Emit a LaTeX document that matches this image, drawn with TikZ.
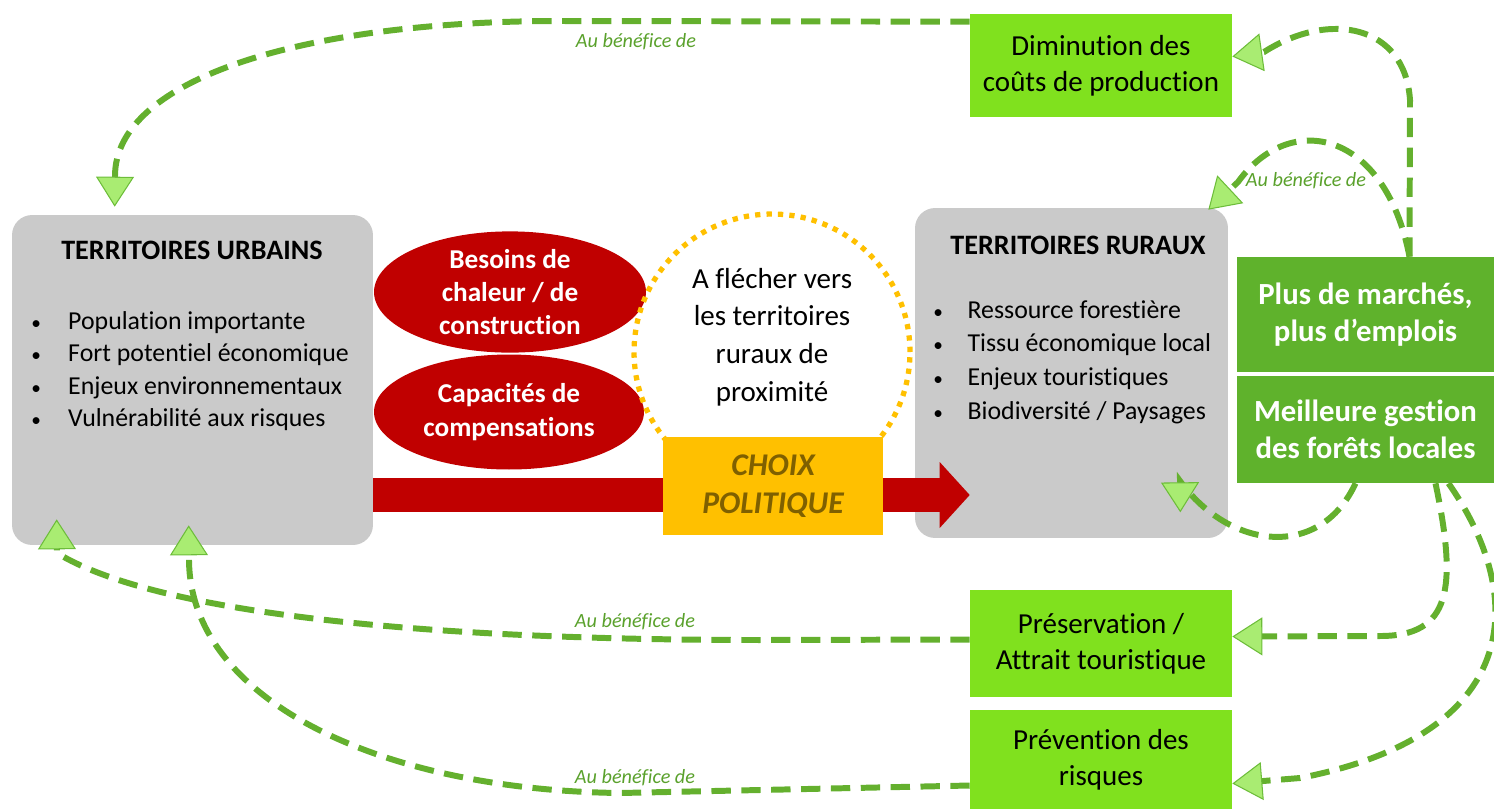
\documentclass[tikz,border=0pt]{standalone}
\usepackage{fontspec}
\setmainfont{Carlito}[Ligatures=NoCommon]
\usetikzlibrary{positioning, calc, arrows.meta, shapes}

\definecolor{grisbox}{HTML}{CACACA}
\definecolor{rougefonce}{HTML}{C00000}
\definecolor{jaunechoix}{HTML}{FFC000}
\definecolor{brunchoix}{HTML}{7F6000}
\definecolor{vertclair}{HTML}{80E11E}
\definecolor{vertfonce}{HTML}{5FB22C}
\definecolor{vertligne}{HTML}{64B02E}
\definecolor{vertfleche}{HTML}{A9EC72}
\definecolor{vertbord}{HTML}{6DBD3A}
\definecolor{vertnote}{HTML}{5AA12C}

\newcommand{\puce}[1]{\makebox[#1][l]{\fontsize{11}{11}\selectfont\textbullet}}

\begin{document}
\begin{tikzpicture}[
    x=0.02cm, y=-0.02cm,
    territoire/.style={rectangle, rounded corners=0.4cm, fill=grisbox, minimum width=#1, minimum height=6.6cm},
    titre/.style={font=\bfseries\fontsize{16}{19}\selectfont},
    liste/.style={align=left, inner sep=0pt, font=\fontsize{14.7}{#1}\selectfont},
    besoin/.style={ellipse, fill=rougefonce, text=white, align=center, inner sep=0pt, font=\bfseries\fontsize{15.5}{18.9}\selectfont},
    effet/.style={rectangle, fill=vertclair, minimum width=5.24cm, align=center, font=\fontsize{16.5}{20.5}\selectfont},
    gain/.style={rectangle, fill=vertfonce, text=white, minimum width=5.14cm, align=center, font=\bfseries\fontsize{17.5}{21}\selectfont},
    benef/.style={draw=vertligne, line width=3.4pt, dash pattern=on 11pt off 6pt,
        -{Triangle[length=0.6cm, width=0.76cm, fill=vertfleche, color=vertbord, line width=0.6pt]}},
    benefnote/.style={text=vertnote, font=\itshape\fontsize{11.5}{13}\selectfont}
]
    \useasboundingbox (0,0) rectangle (1494,809);

    % Territoires
    \node[territoire=7.22cm] (urb) at (192.5,380) {};
    \node[titre] (urbtitre) at (192,250) {TERRITOIRES URBAINS};
    \node[liste=18.5pt, anchor=west] (urbliste) at (31,371) {%
        \puce{21pt}Population importante\\
        \puce{21pt}Fort potentiel économique\\
        \puce{21pt}Enjeux environnementaux\\
        \puce{21pt}Vulnérabilité aux risques};

    \node[territoire=6.26cm] (rur) at (1071.5,373) {};
    \node[titre] (rurtitre) at (1078,245) {TERRITOIRES RURAUX};
    \node[liste=19.1pt, anchor=west] (rurliste) at (933,362) {%
        \puce{19.5pt}Ressource forestière\\
        \puce{19.5pt}Tissu économique local\\
        \puce{19.5pt}Enjeux touristiques\\
        \puce{19.5pt}Biodiversité / Paysages};

    % Besoins des villes
    \node[besoin, minimum width=5.44cm, minimum height=2.4cm] (besoins) at (510,292) {Besoins de\\chaleur / de\\construction};
    \node[besoin, minimum width=5.4cm, minimum height=2.3cm] (capa) at (509,412) {Capacités de\\compensations};

    % Flecher vers le rural
    \node[circle, draw=jaunechoix, line width=3pt, dash pattern=on 3pt off 3.5pt, minimum size=5.52cm] (fleche) at (772,352) {};
    \node[align=center, font=\fontsize{16.5}{21.5}\selectfont] (flechetxt) at (772,337) {A flécher vers\\les territoires\\ruraux de\\proximité};

    \draw[rougefonce, line width=0.68cm, -{Triangle[length=0.6cm, width=1.32cm, line width=0pt]}]
        (urb.east |- 0,495) -- ($(rur.west)+(55,122)$);

    \node[rectangle, fill=jaunechoix, text=brunchoix, minimum width=4.4cm, minimum height=1.96cm, align=center,
        font=\bfseries\itshape\fontsize{18}{21.5}\selectfont] (choix) at (773,486) {CHOIX\\POLITIQUE};

    % Effets
    \node[effet, minimum height=2.06cm] (dim) at (1101,65.5) {Diminution des\\coûts de production};
    \node[effet, minimum height=2.14cm] (pres) at (1101,643.5) {Préservation /\\Attrait touristique};
    \node[effet, minimum height=1.98cm] (prev) at (1101,759.5) {Prévention des\\risques};
    \node[gain, minimum height=2.3cm] (plus) at (1365.5,314.5) {Plus de marchés,\\plus d’emplois};
    \node[gain, minimum height=2.14cm] (gest) at (1365.5,429.5) {Meilleure gestion\\des forêts locales};

    % Au benefice de
    \draw[benef] ($(dim.north west)+(0,8)$) -- (560,21) .. controls (300,21) and (115,80) .. (115,176)
        -- ($(urb.north west)+(103,-8)$);
    \draw[benef] ($(plus.north)+(44,0)$) -- (1410,100) .. controls (1405,25) and (1330,10) .. (1264,52)
        -- ($(dim.east)+(0,-9)$);
    \draw[benef] ($(plus.north)+(44,0)$) .. controls (1385,130) and (1290,110) .. (1238,182)
        -- ($(rur.north east)+(-20,2)$);
    \draw[benef] ($(gest.south)+(-10,0)$) .. controls (1320,560) and (1230,550) .. (1180,481)
        -- ($(rur.south east)+(-48,-26)$);
    \draw[benef] ($(gest.south)+(70,0)$) .. controls (1458,590) and (1450,636) .. (1380,636)
        -- ($(pres.east)+(0,-7)$);
    \draw[benef] ($(gest.south)+(83,0)$) .. controls (1530,600) and (1520,735) .. (1300,778)
        -- ($(prev.east)+(0,24)$);
    \draw[benef] ($(pres.west)+(0,-4)$) -- (760,640) .. controls (400,640) and (150,610) .. (57,553)
        -- ($(urb.south west)+(45,-26)$);
    \draw[benef] ($(prev.west)+(0,26)$) -- (620,793) .. controls (380,790) and (190,700) .. (189,560)
        -- ($(urb.south west)+(177,-20)$);

    \node[benefnote] (note1) at (636,42) {Au bénéfice de};
    \node[benefnote] (note2) at (1306,181) {Au bénéfice de};
    \node[benefnote] (note3) at (635,622) {Au bénéfice de};
    \node[benefnote] (note4) at (635,778) {Au bénéfice de};

\end{tikzpicture}
\end{document}
